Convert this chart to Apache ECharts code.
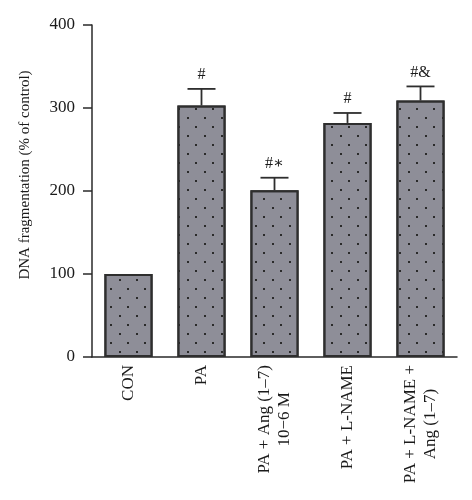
<!DOCTYPE html>
<html>
<head>
<meta charset="utf-8">
<script src="https://cdn.jsdelivr.net/npm/echarts@6/dist/echarts.min.js"></script>
<style>html,body{margin:0;padding:0;background:#fff}#c{width:472px;height:500px}</style>
</head>
<body>
<div id="c"></div>
<script>
const categories = ['CON', 'PA', 'PA + Ang (1–7)\n10−6 M', 'PA + L-NAME', 'PA + L-NAME +\nAng (1–7)'];
const values = [100, 303, 201, 282, 309];
const errors = [0, 20, 15, 12, 17];
const marks = ['', '#', '#∗', '#', '#&'];
const yTicks = [0, 100, 200, 300, 400];

const FONT = '"Liberation Serif", "DejaVu Serif", serif';
const chart = echarts.init(document.getElementById('c'));

chart.setOption({
  animation: false,
  grid: { left: 92, right: 15, top: 25, bottom: 143 },
  xAxis: {
    type: 'category',
    data: categories,
    axisLine: { lineStyle: { color: '#2a2a2a', width: 1.5 } },
    axisTick: { show: false },
    axisLabel: {
      interval: 0,
      rotate: 90,
      margin: 8,
      color: '#1a1a1a',
      fontFamily: FONT,
      fontSize: 17,
      lineHeight: 20,
      formatter: function (v) {
        return v.split('\n').map(function (s) { return '{c|' + s + '}'; }).join('\n');
      },
      rich: { c: { align: 'center', fontFamily: FONT, fontSize: 17, lineHeight: 20, color: '#1a1a1a' } }
    }
  },
  yAxis: {
    type: 'value',
    min: yTicks[0],
    max: yTicks[yTicks.length - 1],
    interval: 100,
    name: 'DNA fragmentation (% of control)',
    nameLocation: 'middle',
    nameGap: 59,
    nameTextStyle: { fontFamily: FONT, fontSize: 15, color: '#1a1a1a', padding: [0, 0, 0, 32] },
    axisLine: { show: true, lineStyle: { color: '#2a2a2a', width: 1.5 } },
    axisTick: { show: true, length: 9, lineStyle: { color: '#2a2a2a', width: 1.5 } },
    axisLabel: { margin: 17, color: '#1a1a1a', fontFamily: FONT, fontSize: 17 },
    splitLine: { show: false }
  },
  series: [
    {
      type: 'bar',
      data: values,
      barWidth: '66%',
      itemStyle: {
        color: '#8e8e98',
        borderColor: '#2e2e2e',
        borderWidth: 2,
        decal: {
          symbol: 'rect',
          symbolSize: 1,
          color: '#2a2a2a',
          dashArrayX: [[1.5, 14.5], [0, 8, 1.5, 6.5]],
          dashArrayY: [1.5, 6.5],
          rotation: 0
        }
      }
    },
    {
      type: 'custom',
      data: values.map(function (v, i) { return [i, v, errors[i]]; }),
      z: 5,
      renderItem: function (params, api) {
        const i = api.value(0), v = api.value(1), e = api.value(2);
        const children = [];
        if (e > 0) {
          const base = api.coord([i, v]);
          const top = api.coord([i, v + e]);
          const half = 14;
          const st = { stroke: '#2e2e2e', lineWidth: 1.8 };
          children.push({ type: 'line', shape: { x1: base[0], y1: base[1], x2: top[0], y2: top[1] }, style: st });
          children.push({ type: 'line', shape: { x1: top[0] - half, y1: top[1], x2: top[0] + half, y2: top[1] }, style: st });
          children.push({
            type: 'text',
            x: top[0], y: top[1] - 14,
            style: { text: marks[params.dataIndex], fill: '#1a1a1a', font: '16px ' + FONT, align: 'center', verticalAlign: 'middle' }
          });
        }
        return { type: 'group', children: children };
      }
    }
  ]
});
</script>
</body>
</html>
